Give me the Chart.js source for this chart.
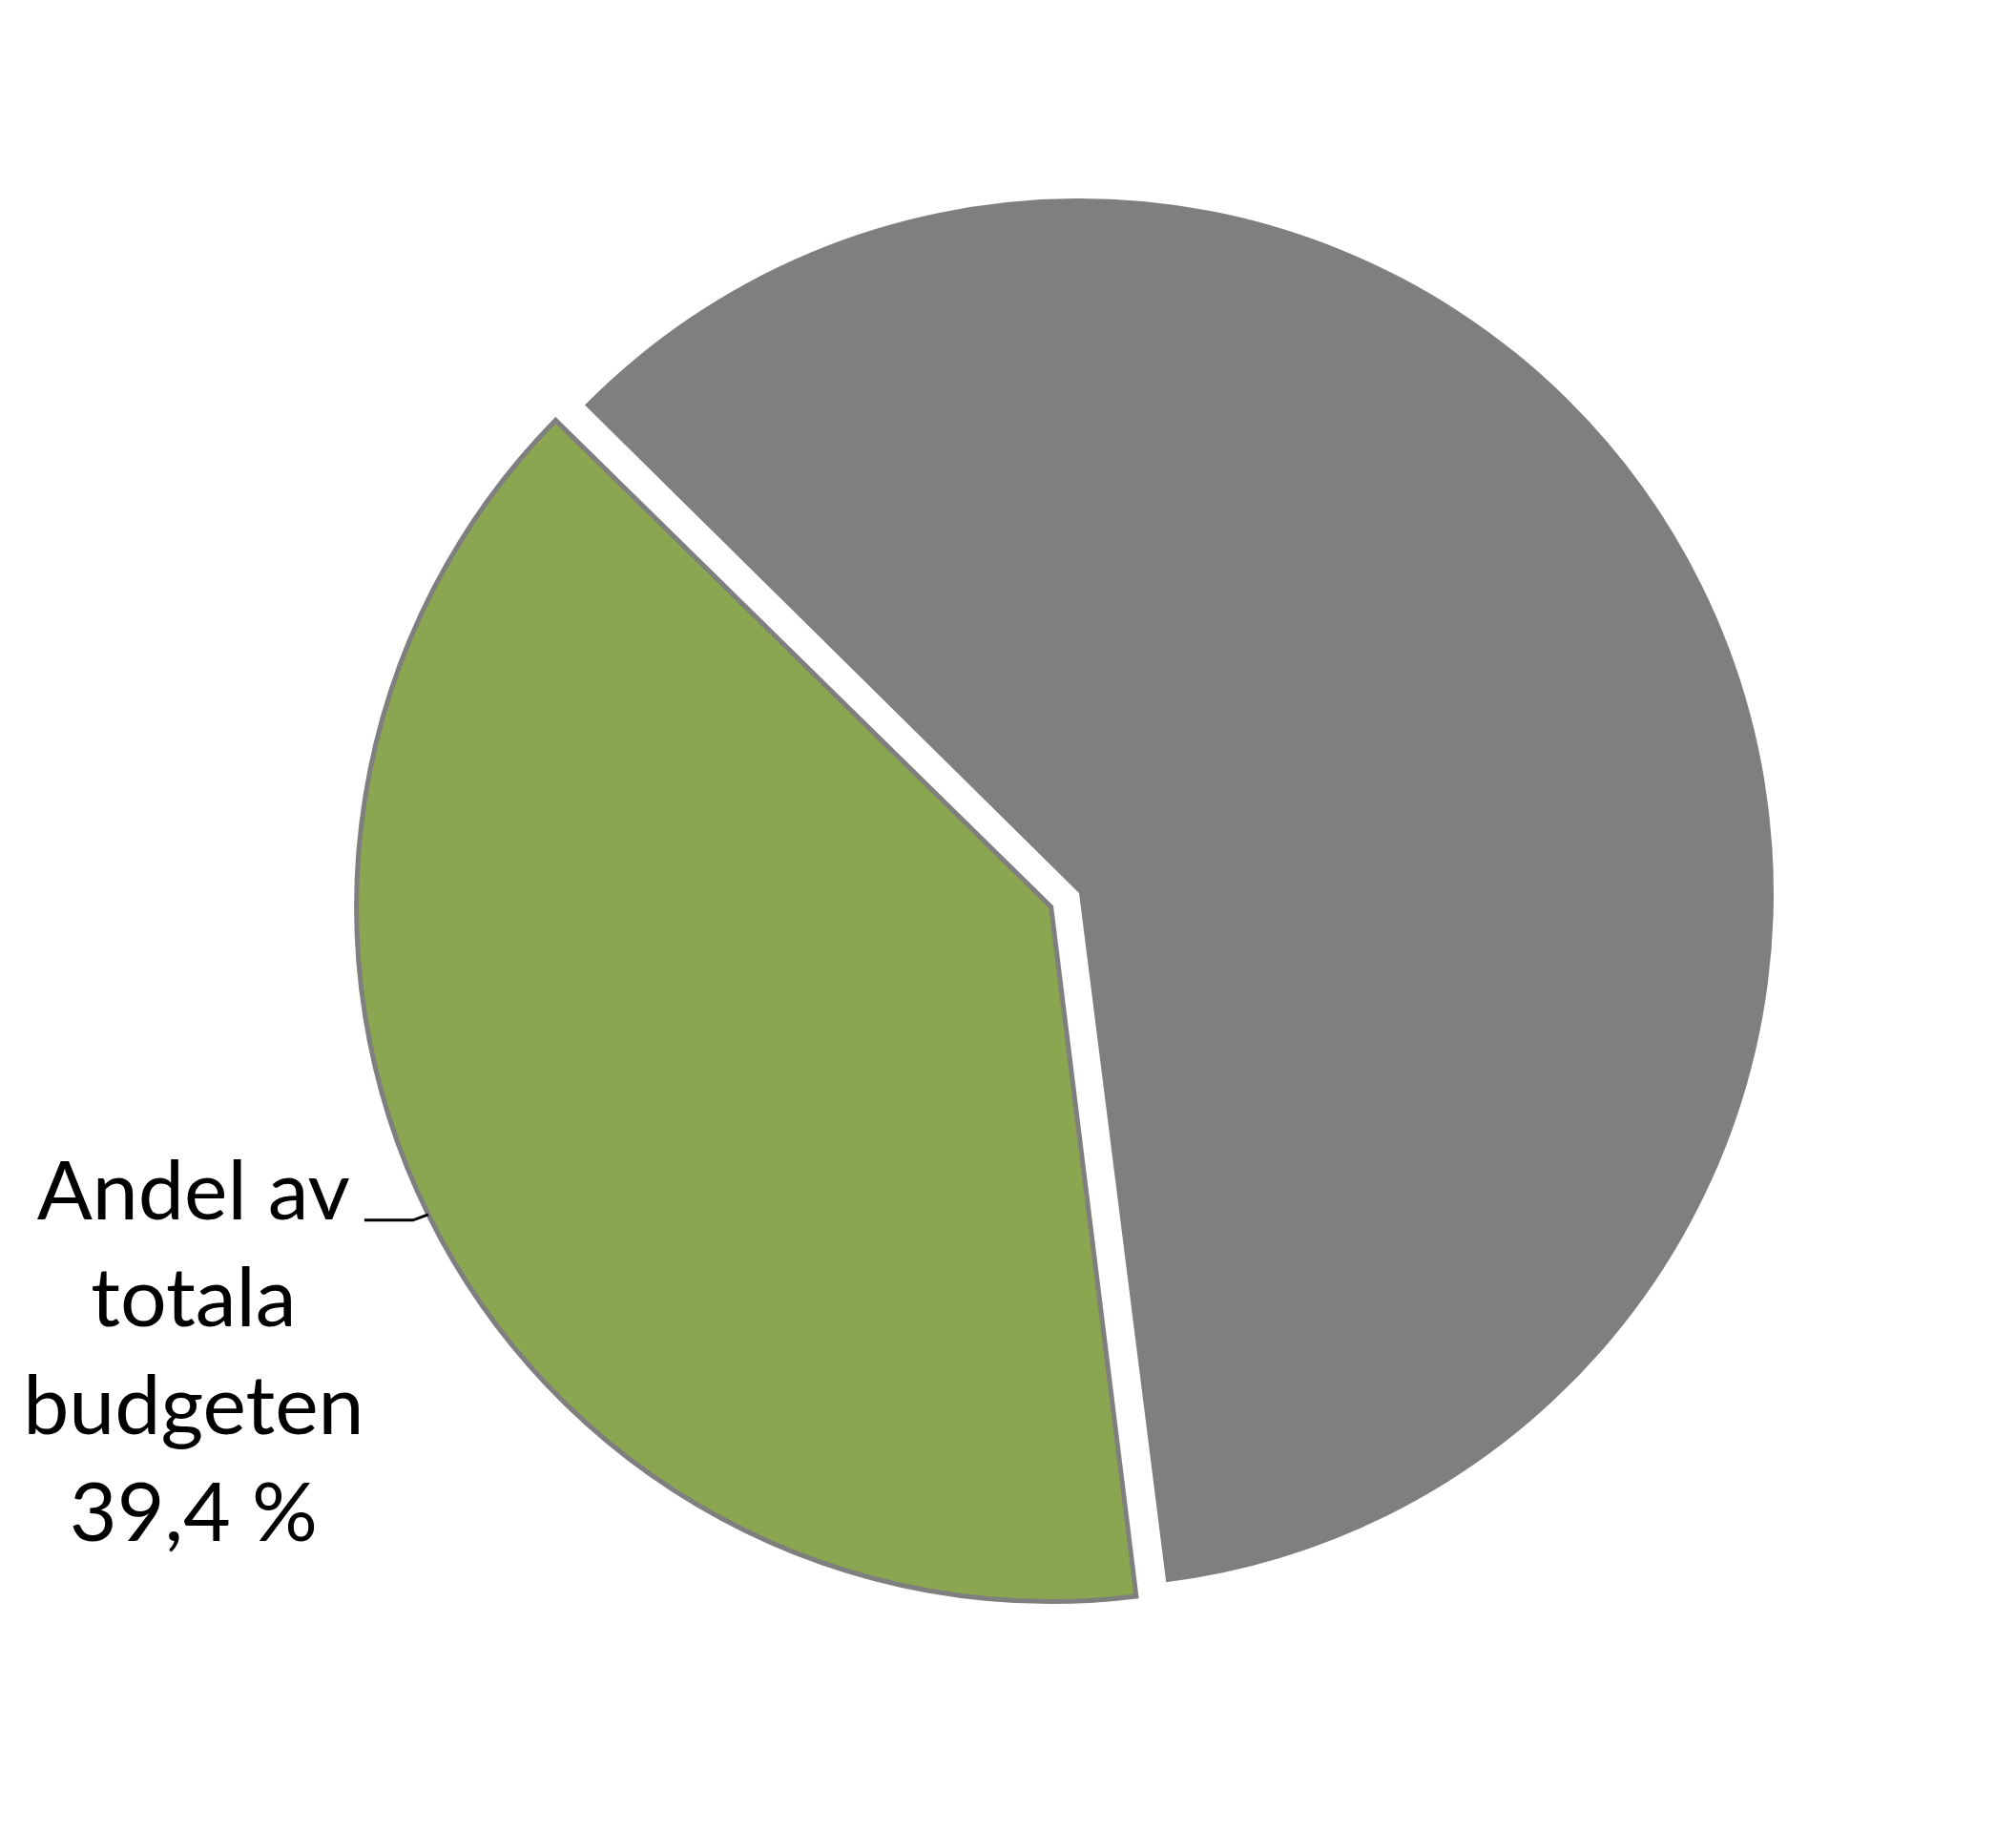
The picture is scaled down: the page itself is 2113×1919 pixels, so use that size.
<!DOCTYPE html>
<html lang="sv">
<head>
<meta charset="utf-8">
<title>Andel av totala budgeten</title>
<script src="https://cdn.jsdelivr.net/npm/chart.js"></script>
<style>
  html, body { margin: 0; padding: 0; background: #ffffff; }
  #wrap { width: 2113px; height: 1919px; }
</style>
</head>
<body>
<div id="wrap"><canvas id="pie" width="2113" height="1919"></canvas></div>
<script>
const sliceLabels = ['Andel av totala budgeten', 'Övrig budget'];
const sliceValues = [39.4, 60.6];
const sliceColors = ['#8BA650', '#7F7F7F'];
const calloutLines = ['Andel av', 'totala', 'budgeten'];

const pieRadius = 728;
const explode = 131;

// Chart.js grows an exploded slice's radius a bit; undo that so both slices match
const evenRadius = {
    id: 'evenRadius',
    afterDatasetsUpdate(chart) {
        chart.getDatasetMeta(0).data.forEach(arc => {
            const shift = (arc.options.offset || 0) / 4;
            const circ = arc.endAngle - arc.startAngle;
            arc.outerRadius -= shift * (1 - Math.sin(Math.min(Math.PI, circ)));
        });
    }
};

const callout = {
    id: 'callout',
    afterDatasetsDraw(chart) {
        const arc = chart.getDatasetMeta(0).data[0];
        const { x, y, startAngle, endAngle, outerRadius } = arc;
        const mid = (startAngle + endAngle) / 2;
        const shift = (arc.options.offset || 0) / 4;
        const fix = shift * (1 - Math.sin(Math.min(Math.PI, endAngle - startAngle)));
        const r = shift + outerRadius + fix;
        const ex = x + Math.cos(mid) * r;
        const ey = y + Math.sin(mid) * r;
        const ctx = chart.ctx;

        ctx.save();
        ctx.strokeStyle = '#000000';
        ctx.lineWidth = 3;
        ctx.beginPath();
        ctx.moveTo(ex, ey);
        ctx.lineTo(ex - 16, ey + 6);
        ctx.lineTo(ex - 67, ey + 6);
        ctx.stroke();

        const lines = calloutLines.concat([sliceValues[0].toFixed(1).replace('.', ',') + ' %']);
        ctx.fillStyle = '#000000';
        ctx.font = '86px Lato, "Open Sans", sans-serif';
        ctx.textAlign = 'center';
        ctx.textBaseline = 'alphabetic';
        const cx = ex - 246;
        lines.forEach((t, i) => ctx.fillText(t, cx, ey + 5 + i * 112.5));
        ctx.restore();
    }
};

new Chart(document.getElementById('pie').getContext('2d'), {
    type: 'pie',
    data: {
        labels: sliceLabels,
        datasets: [{
            data: sliceValues,
            backgroundColor: sliceColors,
            borderColor: ['#7F7F7F', '#7F7F7F'],
            borderWidth: [5, 0],
            borderJoinStyle: 'miter',
            offset: [explode, 0]
        }]
    },
    options: {
        responsive: false,
        animation: false,
        events: [],
        rotation: 172.8,
        radius: pieRadius,
        layout: { padding: { left: 149, right: 0, top: 0, bottom: 47 } },
        plugins: { legend: { display: false }, tooltip: { enabled: false } }
    },
    plugins: [evenRadius, callout]
});
</script>
</body>
</html>
